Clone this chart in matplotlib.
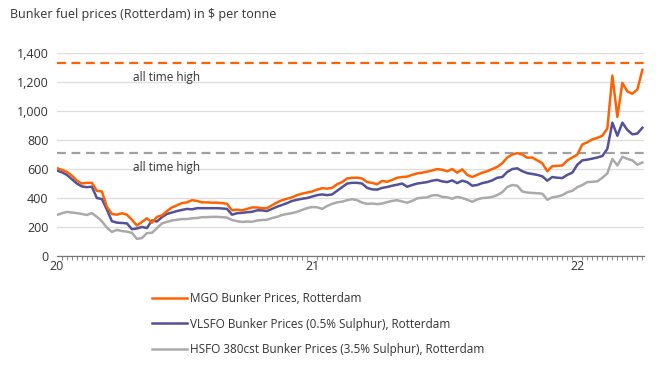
import matplotlib
matplotlib.use("Agg")
import matplotlib.pyplot as plt
import matplotlib.ticker as mticker
import numpy as np
import pandas as pd

# weekly observations, Jan 2020 - Mar 2022 ($ per tonne)
weeks = pd.date_range("2020-01-03", periods=118, freq="W-FRI")

mgo = [606, 595, 580, 555, 520, 500, 505, 505, 450, 445,
       340, 290, 285, 295, 285, 250, 210, 235, 260, 230,
       270, 280, 310, 335, 350, 365, 370, 385, 380, 370,
       370, 368, 368, 365, 360, 315, 320, 315, 325, 335,
       335, 330, 330, 350, 370, 385, 395, 405, 420, 430,
       438, 445, 458, 468, 465, 470, 495, 510, 535, 540,
       540, 535, 510, 505, 495, 518, 512, 525, 540, 545,
       548, 560, 570, 575, 582, 590, 600, 595, 585, 600,
       575, 598, 560, 545, 560, 575, 585, 600, 615, 640,
       680, 700, 710, 700, 678, 680, 660, 640, 585, 620,
       622, 625, 660, 680, 700, 770, 785, 805, 815, 830,
       880, 1245, 960, 1195, 1135, 1120, 1150, 1285]

vlsfo = [590, 578, 560, 530, 500, 480, 475, 478, 400, 393,
         320, 240, 230, 228, 225, 185, 190, 200, 193, 245,
         238, 268, 290, 300, 310, 318, 325, 322, 330, 330,
         330, 330, 330, 328, 325, 285, 295, 298, 302, 305,
         315, 315, 310, 325, 340, 352, 365, 380, 388, 395,
         400, 410, 420, 425, 420, 425, 450, 475, 500, 505,
         505, 500, 470, 460, 458, 470, 476, 485, 492, 500,
         478, 490, 500, 505, 510, 520, 525, 515, 510, 522,
         503, 520, 510, 485, 490, 503, 510, 522, 540, 545,
         580, 600, 605, 585, 572, 566, 560, 550, 520, 545,
         540, 538, 560, 575, 630, 660, 665, 672, 680, 690,
         740, 920, 830, 920, 870, 840, 845, 885]

hsfo = [283, 295, 304, 300, 296, 290, 283, 296, 270, 240,
        195, 166, 180, 172, 168, 160, 118, 124, 158, 160,
        192, 225, 235, 245, 250, 255, 255, 260, 262, 268,
        268, 270, 270, 268, 265, 248, 240, 235, 238, 236,
        245, 248, 250, 262, 270, 283, 290, 296, 305, 318,
        330, 338, 336, 325, 345, 360, 370, 375, 385, 392,
        385, 368, 360, 362, 358, 362, 372, 380, 385, 376,
        368, 380, 398, 402, 405, 418, 420, 408, 405, 395,
        408, 400, 388, 374, 390, 400, 402, 408, 420, 440,
        476, 490, 485, 445, 438, 435, 433, 430, 388, 405,
        410, 420, 440, 450, 475, 490, 510, 512, 515, 540,
        570, 670, 625, 685, 670, 660, 630, 645]

ath_mgo = 1333
ath_hsfo = 712

year_ticks = ["2020-01-03", "2020-12-25", "2021-12-31"]
year_labels = ["20", "21", "22"]

labels = ["MGO Bunker Prices, Rotterdam",
          "VLSFO Bunker Prices (0.5% Sulphur), Rotterdam",
          "HSFO 380cst Bunker Prices (3.5% Sulphur), Rotterdam"]

ORANGE = "#FF6200"
INDIGO = "#525199"
GREY = "#AAAAAA"
TXT = "#333333"

plt.rcParams["font.family"] = ["Open Sans", "DejaVu Sans"]

fig = plt.figure(figsize=(6.61, 3.77), dpi=100)
ax = fig.add_axes([0.086, 0.321, 0.888, 0.538])

l1, = ax.plot(weeks, mgo, color=ORANGE, lw=1.8, zorder=4)
l2, = ax.plot(weeks, vlsfo, color=INDIGO, lw=1.8, zorder=3)
l3, = ax.plot(weeks, hsfo, color=GREY, lw=1.8, zorder=2)

# all-time-high reference levels
ax.axhline(ath_mgo, color=ORANGE, lw=1.6, ls=(0, (4, 2.5)), zorder=3)
ax.axhline(ath_hsfo, color="#A0A0A0", lw=1.6, ls=(0, (4, 2.5)), zorder=1)
mid = weeks[22]
ax.text(mid, ath_mgo - 55, "all time high", ha="center", va="top",
        fontsize=8.5, color=TXT)
ax.text(mid, ath_hsfo - 55, "all time high", ha="center", va="top",
        fontsize=8.5, color=TXT)

ax.set_ylim(0, 1400)
ax.set_xlim(weeks[0], weeks[-1] + pd.Timedelta(days=2))
ax.set_yticks(np.arange(0, 1401, 200))
ax.yaxis.set_major_formatter(mticker.FuncFormatter(lambda v, p: f"{int(v):,}"))
ax.grid(axis="y", color="#DDDDDD", lw=0.9)
ax.set_axisbelow(True)

ax.set_xticks(pd.to_datetime(year_ticks))
ax.set_xticklabels(year_labels)
ax.set_xticks(weeks, minor=True)
ax.tick_params(axis="x", which="major", length=0, pad=3, labelsize=9, colors=TXT)
ax.tick_params(axis="x", which="minor", length=3, width=0.6, color="#777777",
               direction="out")
ax.tick_params(axis="y", length=0, labelsize=9, colors=TXT, pad=6)

for s in ["top", "right", "left"]:
    ax.spines[s].set_visible(False)
ax.spines["bottom"].set_color("#777777")
ax.spines["bottom"].set_linewidth(0.9)

fig.text(0.015, 0.962, "Bunker fuel prices (Rotterdam) in $ per tonne",
         fontsize=9, color=TXT, va="center")

fig.legend([l1, l2, l3], labels, loc="upper left",
           bbox_to_anchor=(0.23, 0.225), frameon=False, fontsize=8.5,
           handlelength=3.0, handletextpad=0.2, labelspacing=1.05,
           borderaxespad=0, borderpad=0, labelcolor=TXT)

fig.savefig("out.png", dpi=100)
